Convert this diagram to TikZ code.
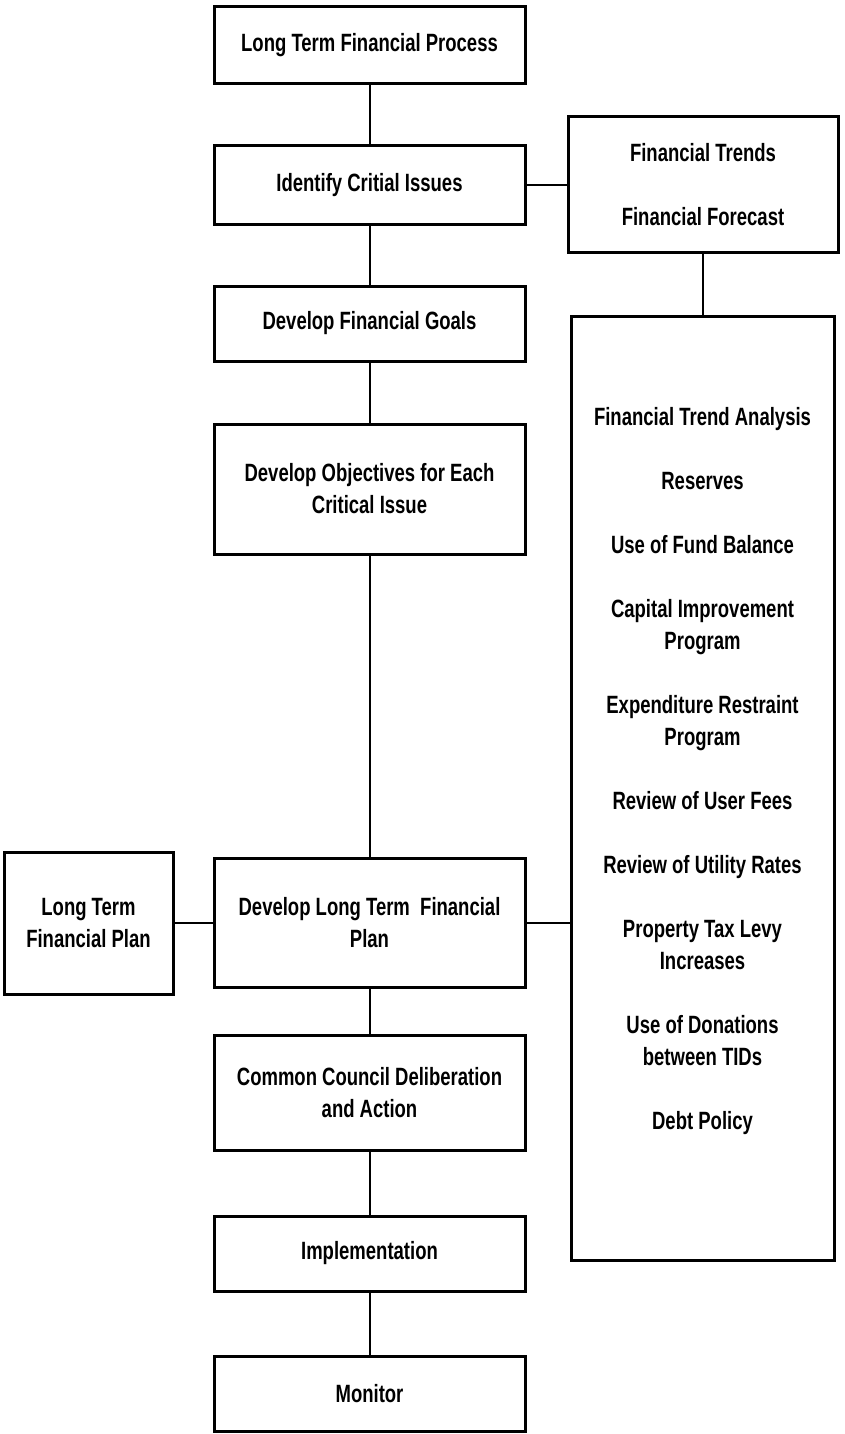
\documentclass[tikz,border=0pt]{standalone}
\usepackage{fontspec}
\setmainfont{Liberation Sans}[FakeStretch=0.74]
\begin{document}
\begin{tikzpicture}[x=1pt,y=-1pt,
  box/.style={draw, line width=3pt, inner sep=0pt, align=center,
    font=\fontsize{25}{32}\selectfont\bfseries},
  cbox/.style={box, minimum width=311pt},
  txt/.style={inner sep=0pt, align=center, font=\fontsize{25}{32}\selectfont\bfseries},
  link/.style={line width=2pt}]
\useasboundingbox (0,0) rectangle (845,1434);

\node[cbox, minimum height=77pt] (b1) at (369.5,45.5) {Long Term Financial Process};
\node[cbox, minimum height=78pt] (b2) at (369.5,185) {Identify Critial Issues};
\node[cbox, minimum height=75pt] (b3) at (369.5,323.5) {Develop Financial Goals};
\node[cbox, minimum height=130pt] (b4) at (369.5,489) {Develop Objectives for Each\\Critical Issue};
\node[cbox, minimum height=129pt] (b5) at (369.5,922.5) {Develop Long Term \ Financial\\Plan};
\node[cbox, minimum height=115pt] (b6) at (369.5,1092.5) {Common Council Deliberation\\and Action};
\node[cbox, minimum height=75pt] (b7) at (369.5,1253.5) {Implementation};
\node[cbox, minimum height=75pt] (b8) at (369.5,1393.5) {Monitor};

\node[box, minimum width=270pt, minimum height=135pt] (ft) at (703,184.5) {Financial Trends\\[32pt]Financial Forecast};
\node[box, minimum width=263pt, minimum height=944pt] (big) at (702.5,788) {};
\node[txt] (bigtext) at (702.5,771.5) {Financial Trend Analysis\\[32pt]
Reserves\\[32pt]
Use of Fund Balance\\[32pt]
Capital Improvement\\Program\\[32pt]
Expenditure Restraint\\Program\\[32pt]
Review of User Fees\\[32pt]
Review of Utility Rates\\[32pt]
Property Tax Levy\\Increases\\[32pt]
Use of Donations\\between TIDs\\[32pt]
Debt Policy};
\node[box, minimum width=169pt, minimum height=142pt] (lp) at (88.5,923) {Long Term\\Financial Plan};

\draw[link] (b1.south) -- (b2.north);
\draw[link] (b2.south) -- (b3.north);
\draw[link] (b3.south) -- (b4.north);
\draw[link] (b4.south) -- (b5.north);
\draw[link] (b5.south) -- (b6.north);
\draw[link] (b6.south) -- (b7.north);
\draw[link] (b7.south) -- (b8.north);
\draw[link] (b2.east) -- (b2.east -| ft.west);
\draw[link] (ft.south) -- (ft.south |- big.north);
\draw[link] (lp.east) -- (lp.east -| b5.west);
\draw[link] (b5.east) -- (b5.east -| big.west);
\end{tikzpicture}
\end{document}
